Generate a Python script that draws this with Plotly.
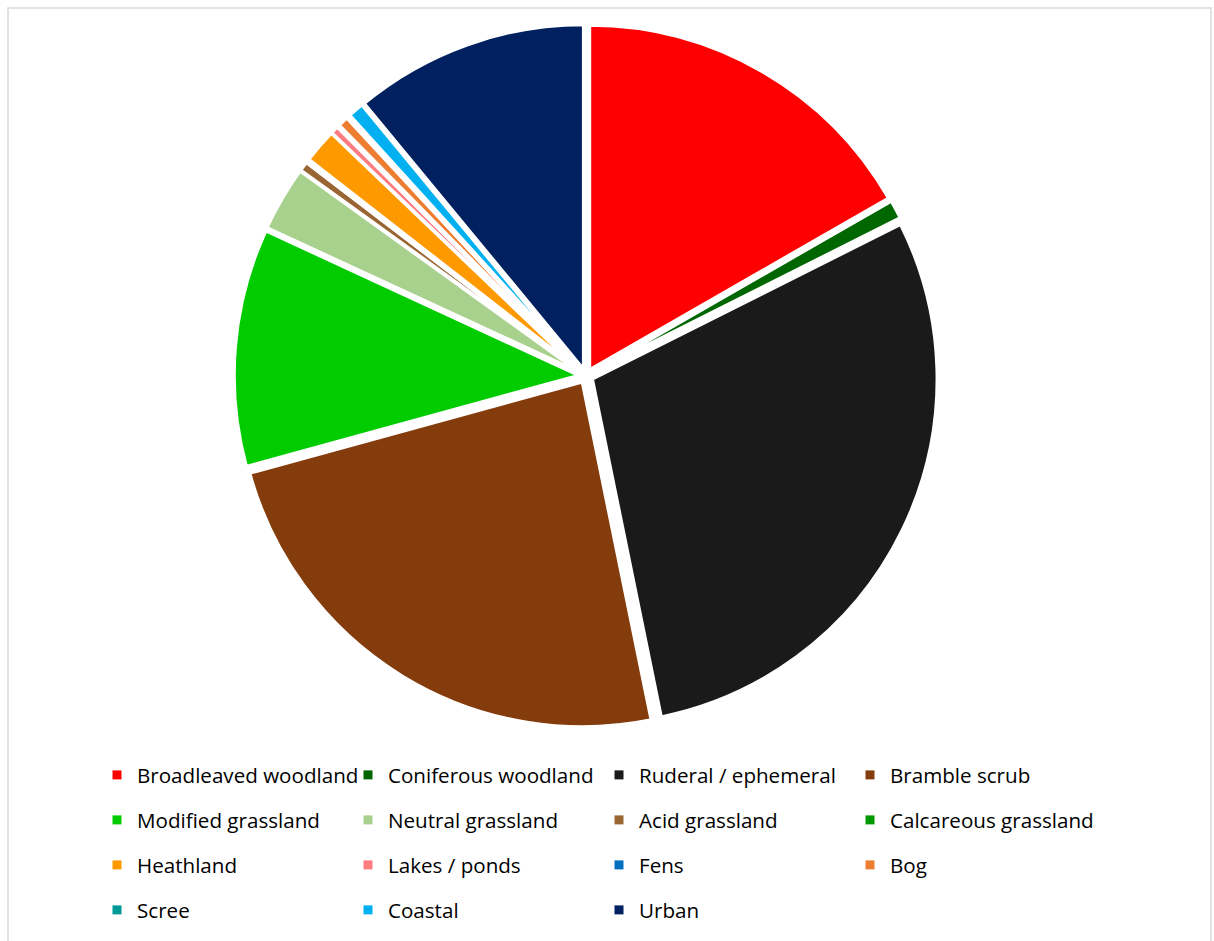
import plotly.graph_objects as go

# Habitat share (%) of the surveyed area
habitats = [
    "Broadleaved woodland", "Coniferous woodland", "Ruderal / ephemeral", "Bramble scrub",
    "Modified grassland", "Neutral grassland", "Acid grassland", "Calcareous grassland",
    "Heathland", "Lakes / ponds", "Fens", "Bog",
    "Scree", "Coastal", "Urban",
]
share = [16.7, 0.89, 29.2, 23.94, 11.14, 3.05, 0.45, 0.15, 1.6, 0.38, 0.1, 0.5, 0.15, 0.75, 10.98]
colors = [
    "#FF0000", "#006600", "#1A1A1A", "#843C0C",
    "#00CC00", "#A9D18E", "#996633", "#009900",
    "#FF9900", "#FF7C80", "#0070C0", "#ED7D31",
    "#009999", "#00B0F0", "#002060",
]

W, H = 1214, 941
FONT = "Open Sans"

fig = go.Figure()

# pie, slightly exploded, with white separators
cx, cy, half = 586, 376, 352
fig.add_trace(go.Pie(
    labels=habitats,
    values=share,
    sort=False,
    direction="clockwise",
    rotation=0,
    pull=0.02,
    marker=dict(colors=colors, line=dict(color="white", width=3.5)),
    textinfo="none",
    hoverinfo="label+percent",
    showlegend=False,
    domain=dict(x=[(cx - half) / W, (cx + half) / W],
                y=[1 - (cy + half) / H, 1 - (cy - half) / H]),
))

# legend: four rows of up to four entries each
row_y = [775, 820, 865, 910]
per_row = 4
legend_names = ["legend", "legend2", "legend3", "legend4"]
for i, (name, col) in enumerate(zip(habitats, colors)):
    fig.add_trace(go.Scatter(
        x=[None], y=[None], mode="markers", name=name,
        marker=dict(symbol="square", size=9, color=col),
        legend=legend_names[i // per_row],
        showlegend=True,
    ))

legend_common = dict(
    orientation="h",
    entrywidth=206, entrywidthmode="pixels",
    x=(117 - 20) / W, xanchor="left",
    yanchor="middle",
    font=dict(family=FONT, size=20.6, color="#000000"),
    bgcolor="rgba(0,0,0,0)",
    itemclick=False, itemdoubleclick=False,
)
layout_legends = {}
for k, ln in enumerate(legend_names):
    layout_legends[ln] = dict(legend_common, y=1 - row_y[k] / H)

fig.update_layout(
    width=W, height=H,
    margin=dict(l=0, r=0, t=0, b=0),
    paper_bgcolor="white",
    plot_bgcolor="white",
    xaxis=dict(visible=False),
    yaxis=dict(visible=False),
    font=dict(family=FONT),
    shapes=[dict(
        type="rect", xref="paper", yref="paper",
        x0=8 / W, x1=1211 / W, y0=-0.05, y1=1 - 8 / H,
        line=dict(color="#D9D9D9", width=1.5),
        fillcolor="rgba(0,0,0,0)", layer="below",
    )],
    **layout_legends,
)

fig.write_html("out.html")
